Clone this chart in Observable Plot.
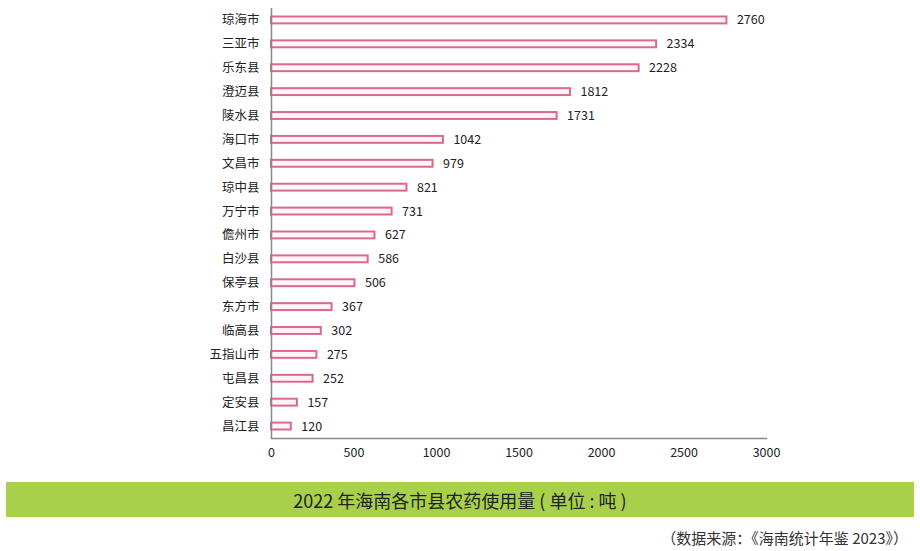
<!DOCTYPE html>
<html><head><meta charset="utf-8">
<script src="https://cdn.jsdelivr.net/npm/d3@7"></script>
<script src="https://cdn.jsdelivr.net/npm/@observablehq/plot@0.6"></script>
<style>
body{margin:0;background:#fff;font-family:"Noto Sans CJK SC","Noto Sans",sans-serif;}
#band{margin:12px 6px 0 6px;height:35px;background:#a8d04a;color:#222;font-size:18px;display:flex;align-items:center;justify-content:center;}
#src{text-align:right;padding-right:12px;margin-top:10px;font-size:15px;color:#333;}
</style></head><body>
<div id="chart"></div>
<div id="band">2022 年海南各市县农药使用量 ( 单位 : 吨 )</div>
<div id="src">（数据来源：《海南统计年鉴 2023》）</div>
<script>
const regions = ["琼海市","三亚市","乐东县","澄迈县","陵水县","海口市","文昌市","琼中县","万宁市","儋州市","白沙县","保亭县","东方市","临高县","五指山市","屯昌县","定安县","昌江县"];
const values = [2760,2334,2228,1812,1731,1042,979,821,731,627,586,506,367,302,275,252,157,120];
const xTicks = [0,500,1000,1500,2000,2500,3000];
const data = regions.map((r,i)=>({region:r, value:values[i]}));
const chart = Plot.plot({
  width:920, height:470,
  marginLeft:271, marginRight:154, marginTop:8, marginBottom:32,
  style:{fontFamily:'"Noto Sans CJK SC","Noto Sans",sans-serif', fontSize:"12.5px", color:"#222"},
  x:{domain:[0,3000], ticks:xTicks, tickFormat:"d", label:null},
  y:{domain:regions, padding:0, round:false, label:null},
  marks:[
    Plot.barX(data,{y:"region", x:"value", fill:"#fff4f7", stroke:"#db6890", strokeWidth:2, insetTop:8.5, insetBottom:8.5}),
    Plot.text(data,{y:"region", x:"value", text:d=>String(d.value), textAnchor:"start", dx:10, fontSize:12.5, fill:"#222"}),
    Plot.ruleX([0],{stroke:"#888", strokeWidth:1.5}),
    Plot.axisX({ticks:xTicks, tickFormat:"d", tickSize:0, tickPadding:10, fontSize:12.5, label:null}),
    Plot.axisY({tickSize:0, tickPadding:12, fontSize:12.5, label:null}),
    Plot.frame({anchor:"bottom", stroke:"#888", strokeWidth:1.5})
  ]
});
document.getElementById("chart").appendChild(chart);
</script>
</body></html>
